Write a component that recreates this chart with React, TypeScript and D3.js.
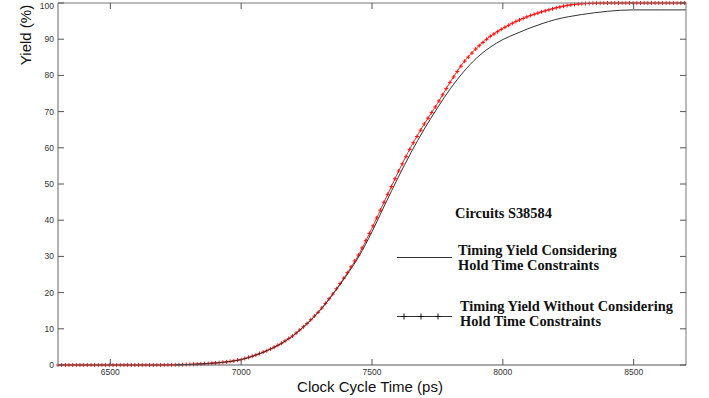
import React from "react";
import * as d3 from "d3";

const W = 709;
const H = 398;

// Clock cycle time (ps) sample points
const timesPs = [6300, 6700, 6750, 6800, 6850, 6900, 6950, 7000, 7050, 7100, 7150, 7200, 7250, 7300, 7350, 7400, 7450, 7500, 7550, 7600, 7650, 7700, 7750, 7800, 7850, 7900, 7950, 8000, 8050, 8100, 8150, 8200, 8250, 8300, 8350, 8400, 8450, 8500, 8600, 8700];

// Timing yield considering hold time constraints (%)
const yieldWithHold = [0, 0, 0.05, 0.15, 0.3, 0.55, 0.9, 1.5, 2.6, 4.0, 5.8, 8.2, 11.3, 15.0, 19.5, 24.5, 30.0, 36.8, 44.4, 51.8, 58.8, 65.2, 71.0, 76.4, 81.0, 84.8, 87.7, 89.9, 91.5, 93.0, 94.3, 95.4, 96.2, 96.8, 97.3, 97.7, 98.0, 98.1, 98.1, 98.1];

// Timing yield without considering hold time constraints (%)
const yieldWithoutHold = [0, 0, 0.05, 0.15, 0.3, 0.55, 0.9, 1.5, 2.6, 4.0, 5.8, 8.2, 11.3, 15.0, 19.6, 24.8, 30.6, 37.8, 45.6, 53.3, 60.4, 66.6, 72.2, 78.3, 83.6, 87.6, 90.7, 93.0, 94.9, 96.4, 97.6, 98.6, 99.4, 99.8, 99.95, 100, 100, 100, 100, 100];

const xTicks = [6500, 7000, 7500, 8000, 8500];
const yTicks = [0, 10, 20, 30, 40, 50, 60, 70, 80, 90, 100];

const legendTitle = "Circuits S38584";
const legendA = ["Timing Yield Considering", "Hold Time Constraints"];
const legendB = ["Timing Yield Without Considering", "Hold Time Constraints"];

export default function App() {
  const left = 58, right = 686, top = 3, bottom = 365;
  const x = d3.scaleLinear().domain([6300, 8700]).range([left, right]);
  const y = d3.scaleLinear().domain([0, 100]).range([bottom, top]);

  const withHold = timesPs.map((t, i) => [t, yieldWithHold[i]] as [number, number]).filter((d) => d[0] >= 6750);
  const without = timesPs.map((t, i) => [t, yieldWithoutHold[i]] as [number, number]);

  const line = d3
    .line<[number, number]>()
    .x((d) => x(d[0]))
    .y((d) => y(d[1]))
    .curve(d3.curveMonotoneX);

  // marker positions along the red series (marker style of the plotted line)
  const along = d3.scaleLinear().domain(timesPs).range(yieldWithoutHold);
  const markerTimes = d3.range(6300, 8700.1, 14);

  const axisColor = "#777";
  const tickFont = { fontFamily: "Arial, 'Liberation Sans', sans-serif", fontSize: 8.5, fill: "#333" };
  const serifBold = { fontFamily: "'Times New Roman', 'Liberation Serif', serif", fontSize: 14.4, fontWeight: 700, fill: "#111" };

  return (
    <svg width={W} height={H} style={{ position: "fixed", left: 0, top: 0, background: "#fff" }}>
      <rect x={0} y={0} width={W} height={H} fill="#fff" />
      {/* red series */}
      <path d={line(without) || ""} fill="none" stroke="#ff2020" strokeWidth={1} />
      {markerTimes.map((t, i) => {
        const cx = x(t);
        const cy = y(along(t));
        return (
          <g key={i} stroke="#ff1010" strokeWidth={1}>
            <line x1={cx - 2} x2={cx + 2} y1={cy} y2={cy} />
            <line x1={cx} x2={cx} y1={cy - 2} y2={cy + 2} />
          </g>
        );
      })}
      {/* black series */}
      <path d={line(withHold) || ""} fill="none" stroke="#333" strokeWidth={1} />

      {/* frame */}
      <line x1={left} x2={right} y1={top} y2={top} stroke={axisColor} />
      <line x1={right} x2={right} y1={top} y2={bottom} stroke={axisColor} />
      <line x1={left} x2={right} y1={bottom} y2={bottom} stroke="#555" />
      <line x1={left} x2={left} y1={top} y2={bottom} stroke="#999" strokeWidth={1.5} />

      {/* y ticks */}
      {yTicks.map((v) => (
        <g key={"y" + v}>
          <line x1={left} x2={left + 6} y1={y(v)} y2={y(v)} stroke="#555" />
          <line x1={right - 6} x2={right} y1={y(v)} y2={y(v)} stroke="#555" />
          <text x={54} y={Math.max(y(v), 6)} dy="0.35em" textAnchor="end" {...tickFont}>
            {v}
          </text>
        </g>
      ))}
      {/* x ticks */}
      {xTicks.map((v) => (
        <g key={"x" + v}>
          <line x1={x(v)} x2={x(v)} y1={bottom} y2={bottom - 6} stroke="#555" />
          <line x1={x(v)} x2={x(v)} y1={top} y2={top + 6} stroke="#555" />
          <text x={x(v)} y={375} textAnchor="middle" {...tickFont}>
            {v}
          </text>
        </g>
      ))}

      {/* axis titles */}
      <text x={370} y={392} textAnchor="middle" fontFamily="Arial, 'Liberation Sans', sans-serif" fontSize={15} fill="#111">
        Clock Cycle Time (ps)
      </text>
      <text transform="translate(31,35) rotate(-90)" textAnchor="middle" fontFamily="Arial, 'Liberation Sans', sans-serif" fontSize={15} fill="#111">
        Yield (%)
      </text>

      {/* legend */}
      <text x={455} y={218} {...serifBold}>{legendTitle}</text>
      <line x1={397} x2={452} y1={257.5} y2={257.5} stroke="#333" />
      <text x={458} y={255} {...serifBold}>{legendA[0]}</text>
      <text x={458} y={270} {...serifBold}>{legendA[1]}</text>
      <line x1={397} x2={452} y1={316.5} y2={316.5} stroke="#333" />
      {[404, 421, 438].map((mx) => (
        <g key={mx} stroke="#111">
          <line x1={mx} x2={mx} y1={313.5} y2={319.5} />
          <line x1={mx - 3} x2={mx + 3} y1={316.5} y2={316.5} />
        </g>
      ))}
      <text x={460} y={310.5} {...serifBold}>{legendB[0]}</text>
      <text x={460} y={325.5} {...serifBold}>{legendB[1]}</text>
    </svg>
  );
}
